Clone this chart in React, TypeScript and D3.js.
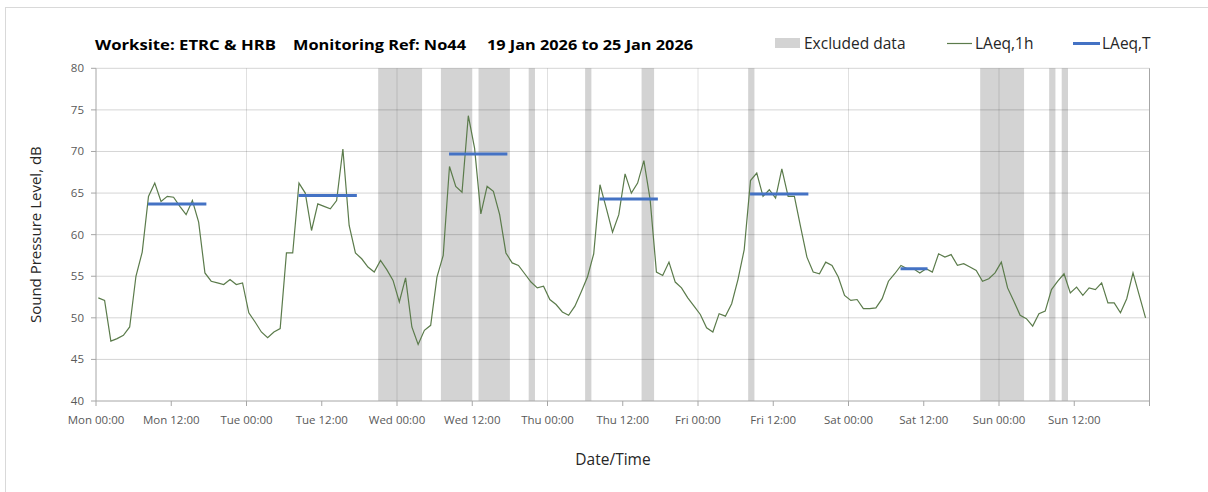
import React from "react";
import * as d3 from "d3";

const days = ["Mon", "Tue", "Wed", "Thu", "Fri", "Sat", "Sun"];
const tickTimes = ["00:00", "12:00"];
const yTicks = [40, 45, 50, 55, 60, 65, 70, 75, 80];

// hourly LAeq,1h values, Mon 00:00 .. Sun 23:00
const laeq1h = [
  52.4, 52.1, 47.2, 47.5, 47.9, 48.9, 55.0, 57.9, 64.6, 66.2, 64.0, 64.6,
  64.5, 63.4, 62.4, 64.1, 61.5, 55.4, 54.4, 54.2, 54.0, 54.6, 54.0, 54.2,
  50.6, 49.5, 48.3, 47.6, 48.3, 48.7, 57.8, 57.8, 66.2, 65.0, 60.5, 63.7,
  63.4, 63.1, 64.1, 70.3, 61.1, 57.8, 57.1, 56.1, 55.5, 56.9, 55.8, 54.5,
  51.9, 54.8, 48.9, 46.8, 48.5, 49.1, 54.9, 57.5, 68.2, 65.8, 65.1, 74.3,
  70.4, 62.5, 65.8, 65.2, 62.4, 57.8, 56.6, 56.3, 55.3, 54.3, 53.6, 53.8,
  52.2, 51.6, 50.7, 50.3, 51.4, 53.1, 54.9, 57.7, 66.0, 63.2, 60.3, 62.4,
  67.3, 65.0, 66.2, 68.9, 64.2, 55.5, 55.1, 56.7, 54.3, 53.6, 52.4, 51.4,
  50.4, 48.8, 48.3, 50.5, 50.2, 51.7, 54.6, 58.2, 66.5, 67.4, 64.6, 65.4,
  64.4, 67.9, 64.6, 64.6, 60.9, 57.3, 55.5, 55.3, 56.7, 56.3, 54.9, 52.7,
  52.1, 52.2, 51.1, 51.1, 51.2, 52.3, 54.4, 55.3, 56.3, 55.9, 55.9, 55.4,
  55.9, 55.5, 57.7, 57.3, 57.6, 56.3, 56.5, 56.1, 55.7, 54.4, 54.7, 55.4,
  56.7, 53.6, 52.0, 50.3, 49.9, 49.0, 50.5, 50.8, 53.4, 54.4, 55.3, 53.0,
  53.7, 52.7, 53.6, 53.4, 54.2, 51.8, 51.8, 50.6, 52.3, 55.4, 52.7, 50.0,
];

// LAeq,T periods (hours from Mon 00:00)
const ltStart = [8.3, 32.3, 56.3, 80.3, 104.3, 128.3];
const ltEnd = [17.6, 41.6, 65.6, 89.6, 113.6, 132.6];
const ltValue = [63.7, 64.7, 69.7, 64.3, 64.9, 55.9];

// excluded data periods (hours from Mon 00:00)
const exStart = [45, 55, 61, 69, 78, 87, 104, 141, 152, 154];
const exEnd = [52, 60, 66, 70, 79, 89, 105, 148, 153, 155];

const W = 1208;
const H = 492;
const FONT = "'Open Sans', 'Noto Sans', sans-serif";

export default function App() {
  const x = d3.scaleLinear().domain([0, 168]).range([96, 1149.5]);
  const y = d3.scaleLinear().domain([40, 80]).range([401, 68.3]);
  const [x0, x1] = x.range();
  const [yb, yt] = y.range();
  const pointOffset = 0.37;

  const line = d3
    .line<number>()
    .x((_, i) => x(i + pointOffset))
    .y((d) => y(d));

  const xTickHours = d3.range(0, 169, 12);
  const dayHours = d3.range(24, 168, 24);

  return (
    <svg
      width={W}
      height={H}
      style={{ position: "fixed", left: 0, top: 0, background: "#fff" }}
      fontFamily={FONT}
    >
      <rect x={5.5} y={7.5} width={W + 10} height={H + 10} fill="#fff" stroke="#d9d9d9" />

      {/* Title */}
      <g fontWeight="bold" fontSize={14} fill="#000">
        <text x={95} y={50} textLength={181} lengthAdjust="spacingAndGlyphs">
          Worksite: ETRC &amp; HRB
        </text>
        <text x={293} y={50} textLength={173} lengthAdjust="spacingAndGlyphs">
          Monitoring Ref: No44
        </text>
        <text x={487} y={50} textLength={206} lengthAdjust="spacingAndGlyphs">
          19 Jan 2026 to 25 Jan 2026
        </text>
      </g>

      {/* Legend */}
      <g fontSize={15.5} fill="#262626">
        <rect x={775} y={38} width={25} height={10} fill="#d3d3d3" />
        <text x={804} y={49}>Excluded data</text>
        <line x1={947} x2={972} y1={43.5} y2={43.5} stroke="#5b7b4b" strokeWidth={1.2} />
        <text x={975} y={49}>LAeq,1h</text>
        <line x1={1073} x2={1100} y1={43.5} y2={43.5} stroke="#4472c4" strokeWidth={3} />
        <text x={1102} y={49}>LAeq,T</text>
      </g>

      {/* Excluded bands */}
      {exStart.map((s, i) => (
        <rect
          key={"ex" + i}
          x={x(s)}
          y={yt}
          width={x(exEnd[i]) - x(s)}
          height={yb - yt}
          fill="#d3d3d3"
        />
      ))}

      {/* Horizontal grid */}
      {yTicks.slice(1).map((v) => (
        <line
          key={"hg" + v}
          x1={x0}
          x2={x1}
          y1={y(v)}
          y2={y(v)}
          stroke="rgba(0,0,0,0.17)"
          strokeWidth={1}
        />
      ))}
      {/* Vertical grid at day boundaries */}
      {dayHours.map((h) => (
        <line
          key={"vg" + h}
          x1={x(h)}
          x2={x(h)}
          y1={yt}
          y2={yb}
          stroke="rgba(0,0,0,0.12)"
          strokeWidth={1}
        />
      ))}
      <line x1={x1} x2={x1} y1={yt} y2={yb} stroke="#a6a6a6" />

      {/* Axes */}
      <line x1={x0} x2={x0} y1={yt} y2={yb} stroke="#a6a6a6" />
      <line x1={x0} x2={x1} y1={yb} y2={yb} stroke="#a6a6a6" />
      {yTicks.map((v) => (
        <g key={"yt" + v}>
          <line x1={x0 - 5} x2={x0} y1={y(v)} y2={y(v)} stroke="#a6a6a6" />
          <text x={84} y={y(v) + 4} textAnchor="end" fontSize={11.5} fill="#595959">
            {v}
          </text>
        </g>
      ))}
      {xTickHours.map((h, i) => (
        <g key={"xt" + h}>
          <line x1={x(h)} x2={x(h)} y1={yb} y2={yb + 5} stroke="#a6a6a6" />
          {h < 168 && (
            <text x={x(h)} y={424} textAnchor="middle" fontSize={11.5} fill="#595959">
              {days[Math.floor(h / 24)] + " " + tickTimes[i % 2]}
            </text>
          )}
        </g>
      ))}

      {/* LAeq,1h */}
      <path d={line(laeq1h) ?? ""} fill="none" stroke="#5b7b4b" strokeWidth={1.2} />

      {/* LAeq,T */}
      {ltStart.map((s, i) => (
        <line
          key={"lt" + i}
          x1={x(s)}
          x2={x(ltEnd[i])}
          y1={y(ltValue[i])}
          y2={y(ltValue[i])}
          stroke="#4472c4"
          strokeWidth={3}
        />
      ))}

      {/* Axis titles */}
      <text
        transform={`translate(41, ${(yt + yb) / 2}) rotate(-90)`}
        textAnchor="middle"
        fontSize={15}
        fill="#262626"
      >
        Sound Pressure Level, dB
      </text>
      <text x={613} y={465} textAnchor="middle" fontSize={15.5} fill="#262626">
        Date/Time
      </text>
    </svg>
  );
}
